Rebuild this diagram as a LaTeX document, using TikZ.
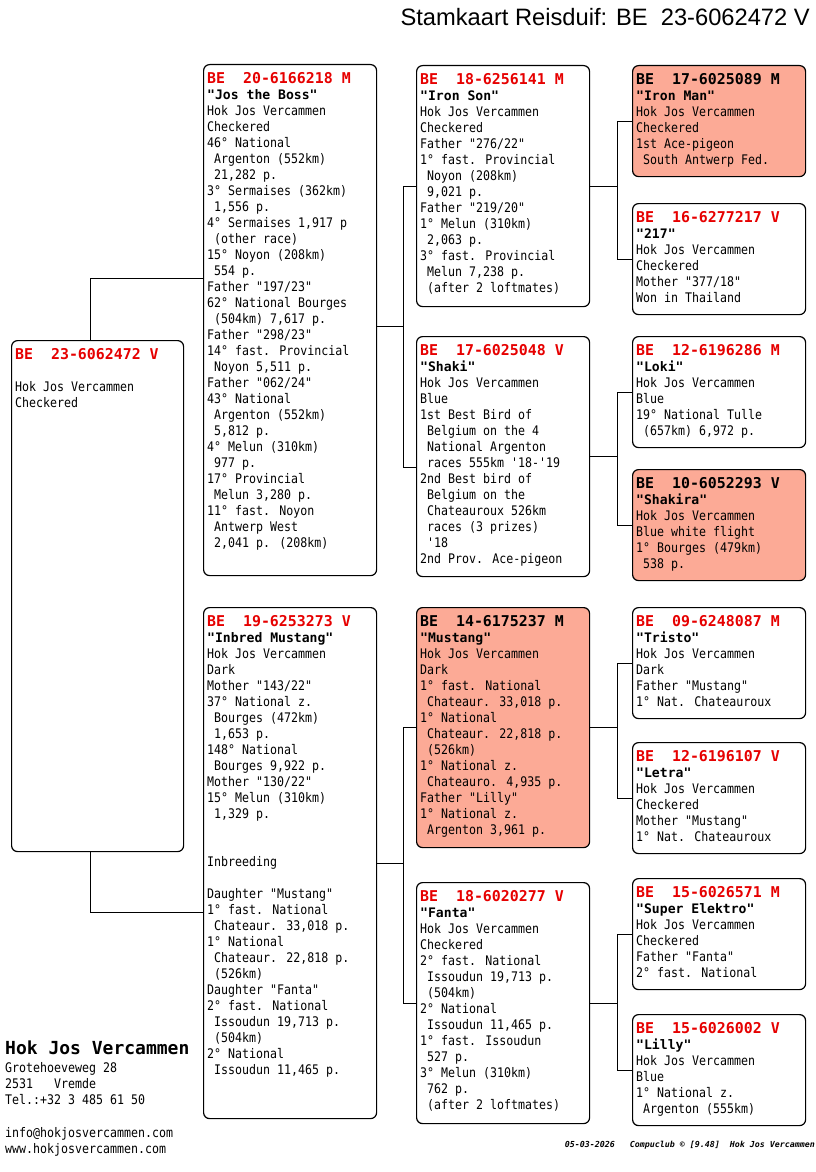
\documentclass[tikz,border=0pt]{standalone}
\usepackage{fontspec}
\usetikzlibrary{positioning}
\newfontfamily\pmono[FakeStretch=0.88,Ligatures=TeXOff]{DejaVu Sans Mono}
\newfontfamily\pwide[Ligatures=TeXOff]{DejaVu Sans Mono}
\newfontfamily\ptitle{Liberation Sans}
\definecolor{pred}{RGB}{230,0,0}
\definecolor{ace}{RGB}{252,170,150}
\newcommand\phead{\pwide\bfseries\fontsize{14.9}{16}\selectfont}
\newcommand\pname{\pwide\bfseries\fontsize{13.1}{16}\selectfont}

\begin{document}
\begin{tikzpicture}[x=1pt,y=-1pt,
  pbox/.style={draw,rounded corners=6pt,line width=1.2pt,anchor=north west,inner sep=0pt,minimum width=173pt},
  gen1/.style={pbox,minimum height=511pt},
  gen2/.style={pbox,minimum height=241pt},
  gen3/.style={pbox,minimum height=111pt},
  acebox/.style={fill=ace},
  ptext/.style={anchor=north west,align=left,inner sep=0pt,font=\pmono\fontsize{13.2}{16}\selectfont},
  link/.style={line width=1pt}]
\useasboundingbox (0,0) rectangle (816,1172);

\node[anchor=base east,inner sep=0pt,font=\ptitle\fontsize{23.7}{28}\selectfont] (title) at (810,26) {Stamkaart Reisduif: BE\ \ 23-6062472 V};

% pigeon
\node[pbox,minimum width=172pt,minimum height=511pt] (root) at (11,340) {};
\node[ptext] (rootT) at ([xshift=4pt,yshift=-8.6pt]root.north west) {{\phead\color{pred}BE\ \ 23-6062472 V}\\ \\Hok Jos Vercammen\\Checkered};

% parents
\node[gen1] (sire) at (203,64) {};
\node[ptext] (sireT) at ([xshift=4pt,yshift=-8.6pt]sire.north west) {{\phead\color{pred}BE\ \ 20-6166218 M}\\{\pname"Jos the Boss"}\\Hok Jos Vercammen\\Checkered\\46° National\\\ Argenton (552km)\\\ 21,282 p.\\3° Sermaises (362km)\\\ 1,556 p.\\4° Sermaises 1,917 p\\\ (other race)\\15° Noyon (208km)\\\ 554 p.\\Father "197/23"\\62° National Bourges\\\ (504km) 7,617 p.\\Father "298/23"\\14° fast. Provincial\\\ Noyon 5,511 p.\\Father "062/24"\\43° National\\\ Argenton (552km)\\\ 5,812 p.\\4° Melun (310km)\\\ 977 p.\\17° Provincial\\\ Melun 3,280 p.\\11° fast. Noyon\\\ Antwerp West\\\ 2,041 p. (208km)};

\node[gen1] (dam) at (203,607) {};
\node[ptext] (damT) at ([xshift=4pt,yshift=-8.6pt]dam.north west) {{\phead\color{pred}BE\ \ 19-6253273 V}\\{\pname"Inbred Mustang"}\\Hok Jos Vercammen\\Dark\\Mother "143/22"\\37° National z.\\\ Bourges (472km)\\\ 1,653 p.\\148° National\\\ Bourges 9,922 p.\\Mother "130/22"\\15° Melun (310km)\\\ 1,329 p.\\ \\ \\Inbreeding\\ \\Daughter "Mustang"\\1° fast. National\\\ Chateaur. 33,018 p.\\1° National\\\ Chateaur. 22,818 p.\\\ (526km)\\Daughter "Fanta"\\2° fast. National\\\ Issoudun 19,713 p.\\\ (504km)\\2° National\\\ Issoudun 11,465 p.};

% grandparents
\node[gen2] (ironson) at (416,65) {};
\node[ptext] (ironsonT) at ([xshift=4pt,yshift=-8.6pt]ironson.north west) {{\phead\color{pred}BE\ \ 18-6256141 M}\\{\pname"Iron Son"}\\Hok Jos Vercammen\\Checkered\\Father "276/22"\\1° fast. Provincial\\\ Noyon (208km)\\\ 9,021 p.\\Father "219/20"\\1° Melun (310km)\\\ 2,063 p.\\3° fast. Provincial\\\ Melun 7,238 p.\\\ (after 2 loftmates)};

\node[gen2,minimum height=240pt] (shaki) at (416,336) {};
\node[ptext] (shakiT) at ([xshift=4pt,yshift=-8.6pt]shaki.north west) {{\phead\color{pred}BE\ \ 17-6025048 V}\\{\pname"Shaki"}\\Hok Jos Vercammen\\Blue\\1st Best Bird of\\\ Belgium on the 4\\\ National Argenton\\\ races 555km '18-'19\\2nd Best bird of\\\ Belgium on the\\\ Chateauroux 526km\\\ races (3 prizes)\\\ '18\\2nd Prov. Ace-pigeon};

\node[gen2,acebox,minimum height=240pt] (mustang) at (416,607) {};
\node[ptext] (mustangT) at ([xshift=4pt,yshift=-8.6pt]mustang.north west) {{\phead BE\ \ 14-6175237 M}\\{\pname"Mustang"}\\Hok Jos Vercammen\\Dark\\1° fast. National\\\ Chateaur. 33,018 p.\\1° National\\\ Chateaur. 22,818 p.\\\ (526km)\\1° National z.\\\ Chateauro. 4,935 p.\\Father "Lilly"\\1° National z.\\\ Argenton 3,961 p.};

\node[gen2] (fanta) at (416,882) {};
\node[ptext] (fantaT) at ([xshift=4pt,yshift=-8.6pt]fanta.north west) {{\phead\color{pred}BE\ \ 18-6020277 V}\\{\pname"Fanta"}\\Hok Jos Vercammen\\Checkered\\2° fast. National\\\ Issoudun 19,713 p.\\\ (504km)\\2° National\\\ Issoudun 11,465 p.\\1° fast. Issoudun\\\ 527 p.\\3° Melun (310km)\\\ 762 p.\\\ (after 2 loftmates)};

% great-grandparents
\node[gen3,acebox] (ironman) at (632,65) {};
\node[ptext] (ironmanT) at ([xshift=4pt,yshift=-8.6pt]ironman.north west) {{\phead BE\ \ 17-6025089 M}\\{\pname"Iron Man"}\\Hok Jos Vercammen\\Checkered\\1st Ace-pigeon\\\ South Antwerp Fed.};

\node[gen3] (s217) at (632,203) {};
\node[ptext] (s217T) at ([xshift=4pt,yshift=-8.6pt]s217.north west) {{\phead\color{pred}BE\ \ 16-6277217 V}\\{\pname"217"}\\Hok Jos Vercammen\\Checkered\\Mother "377/18"\\Won in Thailand};

\node[gen3] (loki) at (632,336) {};
\node[ptext] (lokiT) at ([xshift=4pt,yshift=-8.6pt]loki.north west) {{\phead\color{pred}BE\ \ 12-6196286 M}\\{\pname"Loki"}\\Hok Jos Vercammen\\Blue\\19° National Tulle\\\ (657km) 6,972 p.};

\node[gen3,acebox] (shakira) at (632,469) {};
\node[ptext] (shakiraT) at ([xshift=4pt,yshift=-8.6pt]shakira.north west) {{\phead BE\ \ 10-6052293 V}\\{\pname"Shakira"}\\Hok Jos Vercammen\\Blue white flight\\1° Bourges (479km)\\\ 538 p.};

\node[gen3] (tristo) at (632,607) {};
\node[ptext] (tristoT) at ([xshift=4pt,yshift=-8.6pt]tristo.north west) {{\phead\color{pred}BE\ \ 09-6248087 M}\\{\pname"Tristo"}\\Hok Jos Vercammen\\Dark\\Father "Mustang"\\1° Nat. Chateauroux};

\node[gen3] (letra) at (632,742) {};
\node[ptext] (letraT) at ([xshift=4pt,yshift=-8.6pt]letra.north west) {{\phead\color{pred}BE\ \ 12-6196107 V}\\{\pname"Letra"}\\Hok Jos Vercammen\\Checkered\\Mother "Mustang"\\1° Nat. Chateauroux};

\node[gen3] (elektro) at (632,878) {};
\node[ptext] (elektroT) at ([xshift=4pt,yshift=-8.6pt]elektro.north west) {{\phead\color{pred}BE\ \ 15-6026571 M}\\{\pname"Super Elektro"}\\Hok Jos Vercammen\\Checkered\\Father "Fanta"\\2° fast. National};

\node[gen3] (lilly) at (632,1014) {};
\node[ptext] (lillyT) at ([xshift=4pt,yshift=-8.6pt]lilly.north west) {{\phead\color{pred}BE\ \ 15-6026002 V}\\{\pname"Lilly"}\\Hok Jos Vercammen\\Blue\\1° National z.\\\ Argenton (555km)};

% lines
\draw[link] ([xshift=-7pt]root.north) |- ([yshift=-214pt]sire.north west);
\draw[link] ([xshift=-7pt]root.south) |- ([yshift=-305pt]dam.north west);
\draw[link] ([yshift=-6pt]sire.east) -- ++(26,0) coordinate (sireJ);
\draw[link] (ironson.west) -| (sireJ) |- ([yshift=-131pt]shaki.north west);
\draw[link] (dam.east) -- ++(26,0) coordinate (damJ);
\draw[link] (mustang.west) -| (damJ) |- (fanta.west);
\draw[link] (ironson.east) -- ++(27,0) coordinate (ironsonJ);
\draw[link] (ironman.west) -| (ironsonJ) |- (s217.west);
\draw[link] (shaki.east) -- ++(27,0) coordinate (shakiJ);
\draw[link] (loki.west) -| (shakiJ) |- (shakira.west);
\draw[link] (mustang.east) -- ++(27,0) coordinate (mustangJ);
\draw[link] (tristo.west) -| (mustangJ) |- (letra.west);
\draw[link] (fanta.east) -- ++(27,0) coordinate (fantaJ);
\draw[link] (elektro.west) -| (fantaJ) |- (lilly.west);

% footer
\node[anchor=base west,inner sep=0pt,font=\pwide\bfseries\fontsize{18}{20}\selectfont] (loft) at (5,1054) {Hok Jos Vercammen};
\node[ptext] (address) at (5,1062) {Grotehoeveweg 28\\2531\ \ \ Vremde\\Tel.:+32 3 485 61 50};
\node[ptext] (web) at (5,1127) {info@hokjosvercammen.com\\www.hokjosvercammen.com};
\node[anchor=base east,inner sep=0pt,font=\pwide\bfseries\itshape\fontsize{8.3}{10}\selectfont] (stamp) at (815,1147) {05-03-2026\ \ \ Compuclub © [9.48]\ \ Hok Jos Vercammen};
\end{tikzpicture}
\end{document}
